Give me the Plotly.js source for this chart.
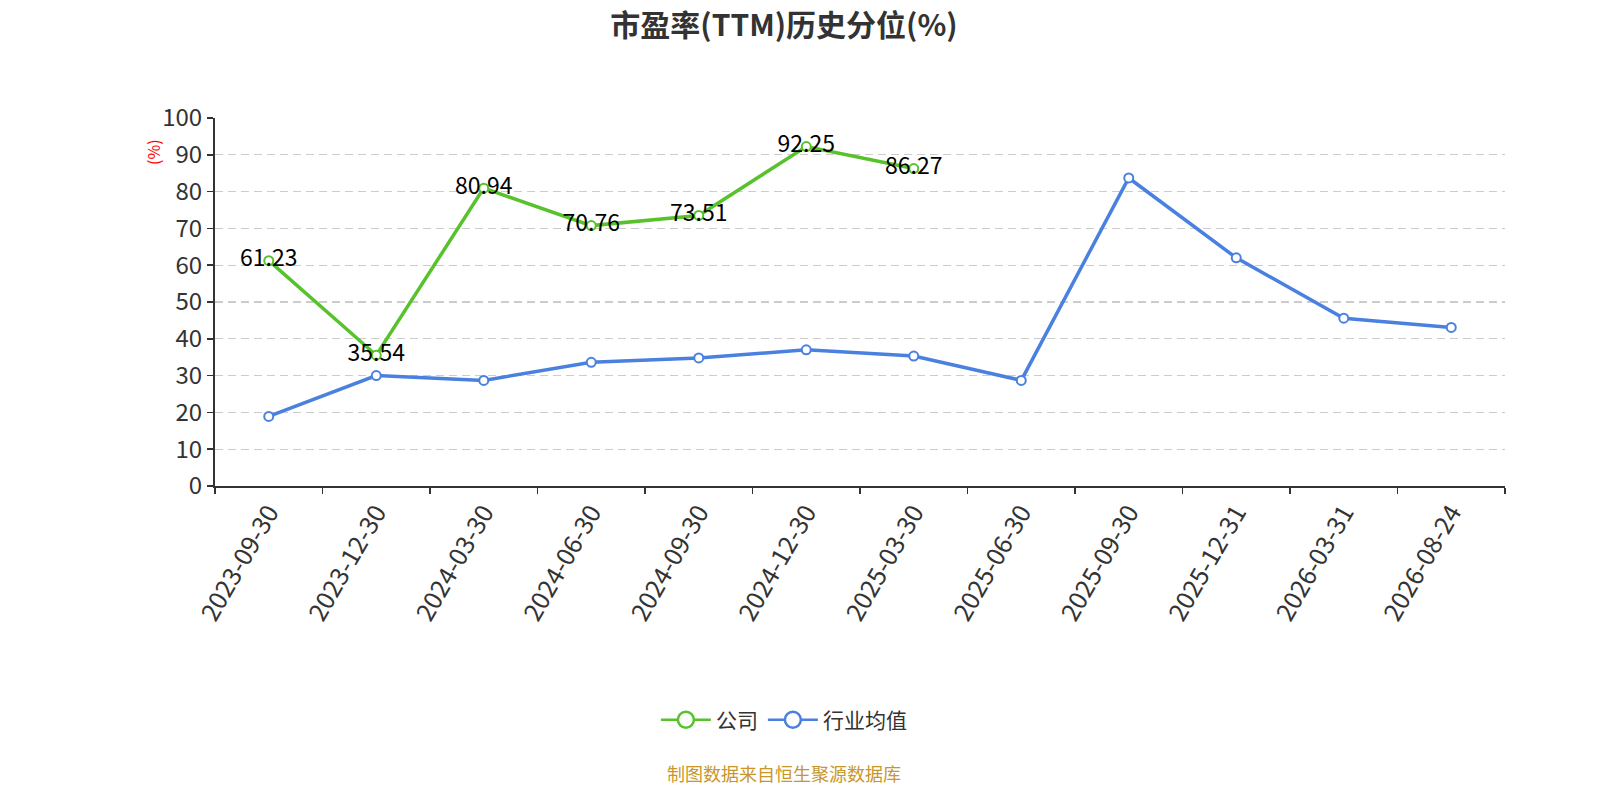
<!DOCTYPE html>
<html>
<head>
<meta charset="utf-8">
<script src="https://cdn.plot.ly/plotly-3.0.1.min.js"></script>
<style>
  body { margin: 0; background: #fff; }
  #plot { width: 1600px; height: 800px; }
</style>
</head>
<body>
<div id="plot"></div>
<script>
var dates = ["2023-09-30", "2023-12-30", "2024-03-30", "2024-06-30", "2024-09-30", "2024-12-30",
  "2025-03-30", "2025-06-30", "2025-09-30", "2025-12-31", "2026-03-31", "2026-08-24"];

// company values only exist for the first 7 dates
var companyDates = dates.slice(0, 7);
var companyVals = [61.23, 35.54, 80.94, 70.76, 73.51, 92.25, 86.27];

var industryVals = [18.9, 30.0, 28.7, 33.6, 34.8, 37.0, 35.3, 28.7, 83.7, 62.0, 45.6, 43.1];

var yTicks = [0, 10, 20, 30, 40, 50, 60, 70, 80, 90, 100];

var font = "Noto Sans CJK SC, Noto Sans, sans-serif";
var green = "#57c22b";
var blue = "#4a80e0";

var company = {
  x: companyDates,
  y: companyVals,
  name: "公司",
  type: "scatter",
  mode: "lines+markers+text",
  text: companyVals.map(function (v) { return v.toFixed(2); }),
  textposition: "middle center",
  textfont: { family: font, size: 23, color: "#000" },
  line: { color: green, width: 3.5 },
  marker: { symbol: "circle", size: 9, color: "#fff", line: { color: green, width: 2 } },
  cliponaxis: false,
  showlegend: false
};

var industry = {
  x: dates,
  y: industryVals,
  name: "行业均值",
  type: "scatter",
  mode: "lines+markers",
  line: { color: blue, width: 3.5 },
  marker: { symbol: "circle", size: 9, color: "#fff", line: { color: blue, width: 2 } },
  cliponaxis: false,
  showlegend: false
};

// legend-only entries, so the legend symbols can be drawn bigger than the data markers
function legendEntry(name, color) {
  return {
    x: [null], y: [null],
    name: name,
    type: "scatter",
    mode: "lines+markers",
    line: { color: color, width: 2.5 },
    marker: { symbol: "circle", size: 22, color: "#fff", line: { color: color, width: 2.5 } }
  };
}

var layout = {
  width: 1600,
  height: 800,
  margin: { l: 215, r: 95, t: 118, b: 314 },
  paper_bgcolor: "#fff",
  plot_bgcolor: "#fff",
  font: { family: font, color: "#333" },
  title: {
    text: "<b>市盈率(TTM)历史分位(%)</b>",
    font: { family: font, size: 30, color: "#333" },
    x: 0.49, xanchor: "center",
    y: 0.968, yanchor: "middle"
  },
  xaxis: {
    type: "category",
    categoryorder: "array",
    categoryarray: dates,
    range: [-0.5, dates.length - 0.5],
    tickson: "boundaries",
    ticks: "outside",
    ticklen: 6,
    tickcolor: "#333",
    tickwidth: 1.5,
    showline: true,
    linecolor: "#333",
    linewidth: 2,
    showgrid: false,
    tickangle: -60,
    tickfont: { family: font, size: 25, color: "#333" },
    fixedrange: true
  },
  yaxis: {
    range: [0, 100],
    tickvals: yTicks,
    ticks: "outside",
    ticklen: 6,
    tickcolor: "#333",
    tickwidth: 1.5,
    showline: true,
    linecolor: "#333",
    linewidth: 2,
    showgrid: true,
    gridcolor: "#cccccc",
    griddash: "8px,5px",
    gridwidth: 1.3,
    zeroline: false,
    tickfont: { family: font, size: 24, color: "#333" },
    fixedrange: true
  },
  showlegend: true,
  legend: {
    orientation: "h",
    x: 0.441, xanchor: "center",
    y: -0.636, yanchor: "middle",
    font: { family: font, size: 21, color: "#333" },
    itemwidth: 50
  },
  annotations: [
    {
      text: "(%)",
      xref: "paper", yref: "paper",
      x: -0.048, y: 0.908,
      xanchor: "center", yanchor: "middle",
      textangle: -90,
      showarrow: false,
      font: { family: font, size: 16, color: "#ff0000" }
    },
    {
      text: "制图数据来自恒生聚源数据库",
      xref: "paper", yref: "paper",
      x: 0.441, y: -0.78,
      xanchor: "center", yanchor: "middle",
      showarrow: false,
      font: { family: font, size: 18, color: "#c9962b" }
    }
  ]
};

var data = [company, industry, legendEntry("公司", green), legendEntry("行业均值", blue)];

Plotly.newPlot("plot", data, layout, { displayModeBar: false, staticPlot: true });
</script>
</body>
</html>
